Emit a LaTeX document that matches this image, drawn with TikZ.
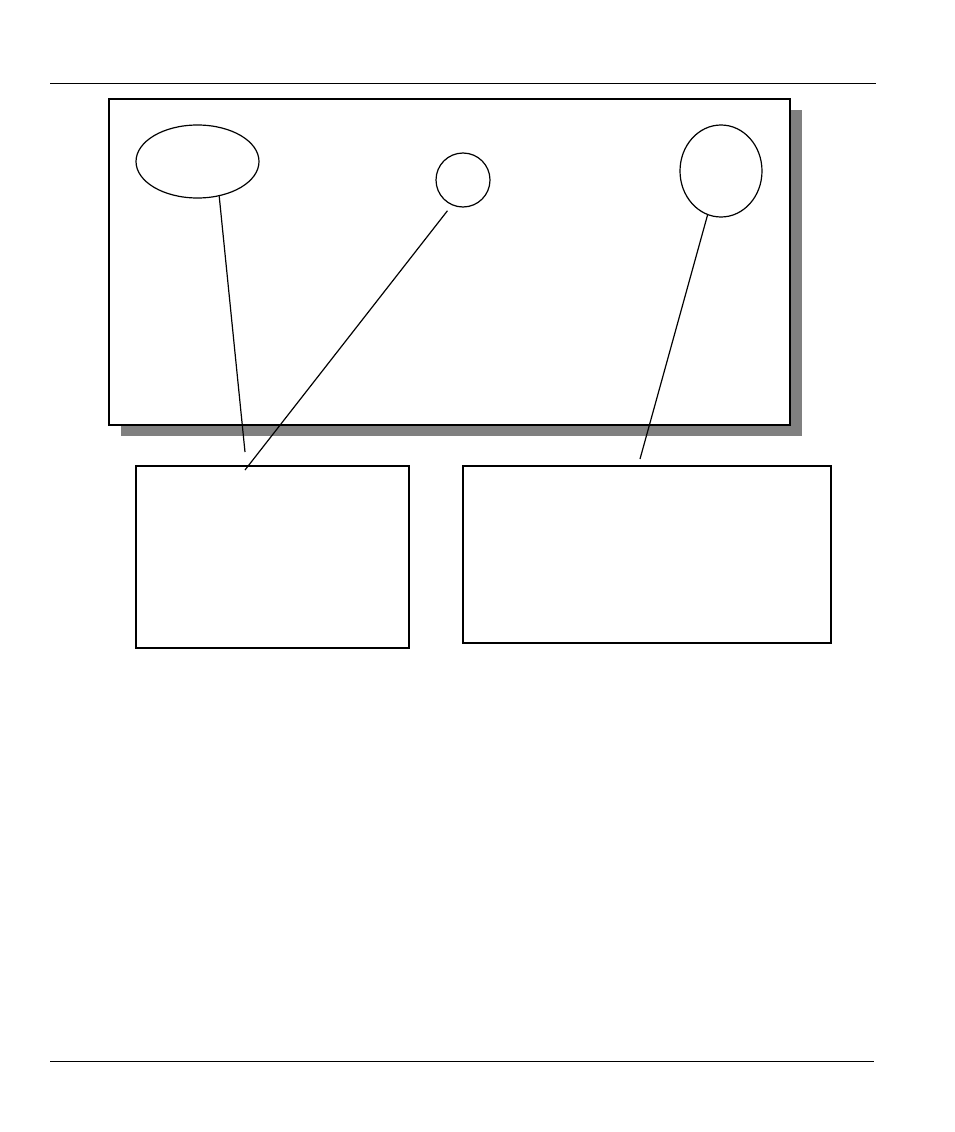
\documentclass[tikz,border=0pt]{standalone}
\usetikzlibrary{shapes.geometric,shadows}
\begin{document}
\begin{tikzpicture}[x=1pt,y=-1pt,
	frame/.style={draw, fill=white, line width=1.2pt, inner sep=0pt},
	oval/.style={draw, ellipse, line width=1.2pt, inner sep=0pt},
	callout/.style={line width=1.2pt}]
		\useasboundingbox (0,0) rectangle (954,1132);
		
		\draw[line width=1pt] (50,83) -- (876,83);
		\draw[line width=1pt] (50,1061) -- (874,1061);
		
		\node[frame, minimum width=681, minimum height=326,
			drop shadow={shadow xshift=12pt, shadow yshift=-11pt, fill=black!50, opacity=1}] (panel) at (449.5,262) {};
		
		\node[oval, minimum width=123, minimum height=73] (leftoval) at (197.5,161.5) {};
		\node[oval, minimum width=54, minimum height=54] (dot) at (463,180) {};
		\node[oval, minimum width=82, minimum height=92] (rightoval) at (721,171) {};
		
		\node[frame, minimum width=273, minimum height=182,
			drop shadow={shadow xshift=1.2pt, shadow yshift=-1.2pt, fill=black, opacity=1}] (leftbox) at (272.5,557) {};
		\node[frame, minimum width=368, minimum height=177] (rightbox) at (647,554.5) {};
		
		\coordinate (tipA) at (245,452);
		\coordinate (tipB) at (245,470);
		\coordinate (tipC) at (640,459);
		
		\draw[callout] (leftoval.-58) -- (tipA);
		\draw[callout, shorten <=7pt] (dot.-114) -- (tipB);
		\draw[callout] (rightoval.-107.6) -- (tipC);
		
	\end{tikzpicture}
\end{document}
